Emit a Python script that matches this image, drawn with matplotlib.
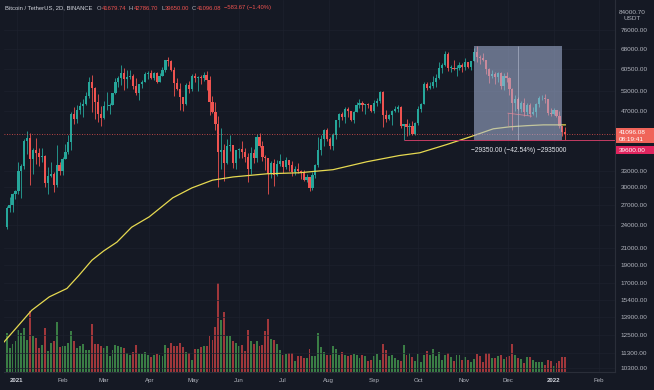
import numpy as np
import matplotlib
matplotlib.use("Agg")
import matplotlib.pyplot as plt
import matplotlib.dates as mdates
from matplotlib.patches import Rectangle
from matplotlib.ticker import NullLocator, NullFormatter
from matplotlib.transforms import IdentityTransform

plt.rcParams['font.family'] = ['Liberation Sans', 'DejaVu Sans']

# 2D candles, first one opens 25 Dec 2020, prices in thousand USDT
first_day = '2020-12-25'
first_open_k = 23.7
close_k = [26.5, 27.1, 28.9, 29.4, 33.0, 34.0, 39.4, 40.2, 35.5, 37.3,
           36.8, 35.8, 36.0, 30.8, 32.1, 32.4, 30.4, 34.3, 33.1, 35.5,
           36.9, 39.3, 46.4, 44.9, 47.4, 48.6, 49.2, 51.6, 55.8, 54.1,
           49.7, 46.3, 45.1, 48.4, 48.4, 48.9, 52.4, 55.9, 57.2, 59.0,
           56.9, 57.6, 58.1, 54.5, 52.3, 55.1, 55.8, 58.8, 59.1, 57.1,
           59.1, 56.0, 58.1, 59.9, 63.6, 63.2, 60.0, 55.7, 53.8, 51.2,
           49.1, 55.0, 53.6, 57.8, 57.2, 57.5, 57.4, 58.3, 56.7, 49.7,
           46.8, 43.6, 37.0, 37.3, 34.7, 38.4, 38.5, 34.6, 37.3, 37.6,
           36.9, 35.8, 33.4, 36.7, 35.6, 40.5, 38.3, 35.8, 35.6, 32.5,
           34.7, 32.2, 34.5, 35.0, 33.8, 35.3, 34.2, 32.9, 33.5, 33.1,
           32.8, 31.4, 31.8, 29.8, 32.3, 34.3, 37.3, 40.0, 42.2, 39.9,
           38.2, 40.9, 44.6, 46.3, 45.6, 47.8, 47.0, 44.7, 46.8, 48.9,
           49.5, 48.9, 49.1, 48.8, 47.1, 49.3, 49.9, 52.7, 46.1, 44.9,
           46.1, 47.1, 47.8, 48.3, 43.0, 43.6, 42.8, 43.2, 41.0, 43.8,
           47.7, 49.2, 55.3, 53.9, 54.7, 56.0, 57.4, 60.9, 62.0, 66.0,
           60.7, 60.9, 60.4, 60.6, 61.9, 61.0, 62.9, 61.0, 63.3, 66.9,
           64.8, 64.4, 63.6, 60.4, 58.1, 58.7, 57.6, 58.9, 54.7, 57.8,
           57.2, 53.6, 49.4, 50.6, 47.6, 49.4, 46.7, 48.9, 46.2, 46.7,
           49.0, 50.8, 50.8, 50.7, 46.5, 46.2, 47.3, 45.8, 43.1, 41.67974,
           41.09608]
high_k = [26.9, 28.4, 29.0, 29.6, 34.8, 34.5, 40.0, 41.9, 41.4, 37.8,
          40.1, 37.9, 37.9, 36.4, 33.8, 34.9, 32.9, 38.5, 34.9, 35.9,
          38.7, 40.9, 46.8, 48.2, 48.9, 49.7, 50.6, 52.6, 57.5, 58.4,
          54.2, 52.0, 48.4, 50.0, 52.6, 49.4, 52.5, 57.4, 58.1, 61.8,
          60.6, 60.1, 59.9, 58.6, 57.2, 55.1, 56.6, 59.3, 59.8, 60.1,
          59.3, 59.5, 58.9, 61.2, 63.8, 64.9, 63.6, 61.0, 57.1, 55.5,
          51.2, 55.5, 56.4, 58.5, 59.0, 57.9, 58.4, 59.5, 59.6, 57.9,
          51.5, 49.7, 45.8, 42.5, 38.8, 39.9, 40.8, 38.2, 37.5, 37.9,
          39.5, 37.9, 36.8, 38.0, 37.7, 41.0, 41.3, 39.5, 36.4, 35.7,
          35.0, 35.5, 35.3, 36.6, 35.0, 35.9, 35.3, 35.1, 34.1, 34.6,
          33.3, 33.2, 32.4, 31.9, 32.9, 34.5, 40.5, 40.9, 42.3, 42.6,
          40.4, 41.4, 44.8, 46.5, 46.7, 48.1, 48.2, 47.2, 47.0, 49.8,
          50.5, 49.9, 49.2, 49.3, 48.9, 50.4, 51.0, 52.9, 52.9, 47.4,
          46.4, 47.3, 48.5, 48.8, 48.4, 43.6, 45.0, 44.0, 44.4, 44.1,
          48.5, 49.5, 55.8, 56.0, 56.0, 57.8, 58.5, 62.9, 62.7, 67.0,
          66.6, 61.7, 63.7, 62.0, 62.9, 62.4, 64.3, 63.1, 63.3, 68.5,
          69.0, 65.5, 66.3, 63.6, 60.9, 60.0, 59.3, 59.4, 59.2, 58.9,
          59.2, 57.6, 53.9, 51.9, 51.2, 50.1, 50.8, 49.5, 49.4, 48.3,
          49.3, 51.4, 51.9, 52.0, 50.7, 48.0, 47.9, 47.5, 47.1, 43.1,
          42.7867]
low_k = [23.4, 25.9, 26.0, 28.0, 28.9, 28.1, 33.4, 36.5, 30.4, 32.5,
         34.4, 34.0, 34.9, 30.1, 28.8, 31.9, 29.2, 30.0, 32.2, 32.3,
         35.4, 36.6, 37.4, 43.7, 44.0, 46.2, 45.6, 48.9, 50.8, 46.9,
         45.0, 44.1, 43.0, 45.0, 47.5, 46.3, 48.9, 52.0, 54.2, 55.0,
         53.3, 54.1, 56.8, 53.7, 51.7, 50.4, 54.0, 55.8, 56.9, 56.9,
         56.5, 55.5, 55.8, 57.9, 59.4, 61.3, 59.6, 51.5, 53.4, 47.5,
         47.0, 48.8, 52.4, 53.1, 56.0, 53.0, 55.2, 56.2, 53.4, 46.0,
         46.6, 42.0, 30.0, 33.5, 31.1, 34.4, 37.2, 33.6, 33.4, 35.7,
         35.6, 34.8, 31.0, 32.4, 34.6, 34.8, 38.1, 35.1, 33.3, 28.8,
         31.7, 30.2, 32.0, 34.0, 32.7, 33.5, 33.1, 32.1, 32.3, 32.7,
         31.6, 31.1, 31.0, 29.3, 29.5, 31.7, 33.9, 36.4, 38.3, 39.4,
         37.6, 37.3, 39.9, 42.8, 44.7, 43.8, 45.5, 44.4, 43.9, 46.7,
         48.0, 47.1, 46.3, 48.0, 46.7, 46.5, 48.4, 49.4, 42.8, 44.2,
         44.8, 43.4, 46.7, 46.7, 42.5, 39.6, 40.7, 40.8, 40.9, 40.8,
         43.3, 46.9, 49.0, 53.3, 53.7, 53.9, 54.4, 56.9, 58.9, 61.3,
         59.6, 59.5, 60.1, 58.0, 60.2, 59.4, 60.1, 60.7, 60.0, 63.2,
         62.8, 62.3, 63.4, 58.6, 55.6, 57.4, 55.4, 55.9, 53.5, 53.3,
         55.9, 51.7, 42.0, 47.1, 47.3, 46.9, 45.7, 46.1, 45.5, 45.9,
         45.6, 48.1, 50.2, 49.5, 46.1, 45.7, 46.0, 45.5, 42.5, 40.6,
         39.65]
# volume, thousand BTC (rough)
volume = [39, 24, 28, 31, 42, 39, 44, 32, 62, 36,
          34, 24, 27, 45, 21, 29, 31, 51, 25, 26,
          26, 29, 41, 31, 24, 26, 28, 22, 22, 49,
          28, 28, 26, 24, 26, 16, 22, 27, 26, 25,
          24, 19, 17, 20, 27, 18, 18, 20, 17, 15,
          17, 18, 17, 16, 27, 24, 29, 26, 26, 29,
          25, 20, 19, 12, 23, 23, 25, 26, 26, 36,
          32, 46, 90, 53, 61, 36, 36, 31, 29, 26,
          27, 21, 42, 31, 28, 31, 26, 27, 41, 54,
          33, 32, 28, 22, 17, 18, 19, 19, 11, 16,
          16, 14, 14, 23, 16, 16, 39, 25, 20, 17,
          17, 26, 23, 17, 20, 17, 16, 17, 18, 17,
          14, 17, 16, 11, 12, 16, 18, 12, 28, 22,
          16, 17, 14, 12, 11, 27, 17, 19, 15, 11,
          18, 10, 17, 21, 17, 23, 16, 20, 12, 17,
          19, 15, 11, 17, 17, 12, 15, 12, 10, 13,
          18, 16, 10, 19, 19, 14, 14, 16, 17, 13,
          15, 16, 28, 17, 14, 13, 9, 15, 15, 12,
          10, 10, 10, 7, 12, 11, 6, 9, 11, 15,
          15]

# moving average (yellow line), thousand USDT
ma_dates = ['2020-12-23', '2021-01-11', '2021-01-23', '2021-02-04', '2021-02-12',
            '2021-02-21', '2021-03-01', '2021-03-10', '2021-03-20', '2021-04-01',
            '2021-04-17', '2021-04-30', '2021-05-14', '2021-05-28', '2021-06-20',
            '2021-07-12', '2021-08-04', '2021-08-27', '2021-09-18', '2021-10-02',
            '2021-10-20', '2021-11-05', '2021-11-21', '2021-12-02', '2021-12-14',
            '2021-12-25', '2022-01-09']
ma_k = [12.0, 14.5, 15.7, 16.5, 17.8, 19.5, 20.6, 21.7, 23.7, 25.2,
        28.2, 29.9, 31.3, 31.9, 32.5, 32.7, 33.3, 34.9, 36.2, 36.8,
        38.6, 40.4, 42.4, 42.9, 43.2, 43.4, 43.4]

price_ticks = [76000, 68000, 60500, 53000, 47000, 33000, 30000, 27000, 24000,
               21000, 19000, 17000, 15400, 13900, 12500, 11300, 10300]
month_dates = ['2021-01-01', '2021-02-01', '2021-03-01', '2021-04-01', '2021-05-01',
               '2021-06-01', '2021-07-01', '2021-08-01', '2021-09-01', '2021-10-01',
               '2021-11-01', '2021-12-01', '2022-01-01', '2022-02-01']
month_labels = ['2021', 'Feb', 'Mar', 'Apr', 'May', 'Jun', 'Jul', 'Aug', 'Sep',
                'Oct', 'Nov', 'Dec', '2022', 'Feb']

symbol = 'Bitcoin / TetherUS, 2D, BINANCE'
change = -583.67
change_pct = -1.40
countdown = '08:19:41'
ray_start = '2021-09-21'
ray_price = 39600
range_dates = ['2021-11-08', '2022-01-07']
range_high = 69000.0
range_low = 39650.0
note_dates = ['2021-12-01', '2021-12-17']
note_prices = [46500, 45700]

BG = '#151924'
UP, DOWN = '#26a69a', '#ef5350'
VUP, VDOWN = '#3a7d45', '#a0373b'
TXT = '#b2b5be'
W, H = 654, 390


def fmt(v):
    return f'{v:.2f}'.replace('-', '\u2212')


closes = np.array(close_k) * 1000
highs = np.array(high_k) * 1000
lows = np.array(low_k) * 1000
opens = np.concatenate([[first_open_k * 1000], closes[:-1]])
dates = np.datetime64(first_day) + np.arange(len(closes)) * np.timedelta64(2, 'D')
x = mdates.date2num(dates)
up = closes >= opens

fig = plt.figure(figsize=(W / 100, H / 100), dpi=100, facecolor=BG)
rect = [4 / W, 18 / H, (615 - 4) / W, 372 / H]
axv = fig.add_axes(rect)
ax = fig.add_axes(rect, sharex=axv)
axv.axis('off')
ax.set_facecolor('none')

# volume underneath
axv.bar(x, volume, width=1.3, color=np.where(up, VUP, VDOWN), linewidth=0)
axv.set_ylim(0, max(volume) * 372 / 89)

# candles
ax.set_yscale('log')
ax.vlines(x, lows, highs, colors=np.where(up, UP, DOWN), lw=0.6, zorder=3)
b_lo = np.minimum(opens, closes)
b_hi = np.maximum(np.maximum(opens, closes), b_lo * 1.004)
ax.bar(x, b_hi - b_lo, bottom=b_lo, width=1.5, color=np.where(up, UP, DOWN),
       linewidth=0, zorder=4)

ax.plot(mdates.date2num(np.array(ma_dates, dtype='datetime64[D]')),
        np.array(ma_k) * 1000, color='#e6d951', lw=0.9, zorder=5)

jan1 = mdates.date2num(np.datetime64('2021-01-01'))
ax.set_xlim(jan1 - 8.8, jan1 + 406.8)
ax.set_ylim(10070, 90800)

# drawings
ax.axhline(closes[-1], color=DOWN, lw=0.6, ls=(0, (1, 2)), zorder=5)
ax.hlines(ray_price, mdates.date2num(np.datetime64(ray_start)), ax.get_xlim()[1],
          color='#c43d63', lw=0.7, zorder=5)
rx0, rx1 = mdates.date2num(np.array(range_dates, dtype='datetime64[D]'))
ax.add_patch(Rectangle((rx0, range_low), rx1 - rx0, range_high - range_low,
                       facecolor='#a9b8dc', alpha=0.55, edgecolor='none', zorder=6))
ax.vlines((rx0 + rx1) / 2, range_low, range_high, color='#d4dbeb', lw=0.5,
          alpha=0.6, zorder=7)
nd = mdates.date2num(np.array(note_dates, dtype='datetime64[D]'))
ax.plot(nd, note_prices, color='#e58a9a', lw=0.6, alpha=0.8, zorder=7)
ax.vlines(nd[0], 43000, note_prices[0], color='#e58a9a', lw=0.5, alpha=0.6, zorder=7)
diff = range_low - range_high
ax.annotate(f'{fmt(diff)} ({fmt(diff / range_high * 100)}%) {int(round(diff * 100))}'.replace('-', '\u2212'),
            xy=((rx0 + rx1) / 2, range_low), xytext=(0, -7.5), textcoords='offset points',
            ha='center', va='center', fontsize=4.8, color='#e8eaf0', zorder=8)

# axes styling
ax.yaxis.tick_right()
ax.set_yticks(price_ticks)
ax.set_yticklabels([f'{t:.2f}' for t in price_ticks])
ax.yaxis.set_minor_locator(NullLocator())
ax.yaxis.set_minor_formatter(NullFormatter())
ax.tick_params(axis='y', length=0, pad=4, labelsize=4.6, labelcolor=TXT)
ax.set_xticks(mdates.date2num(np.array(month_dates, dtype='datetime64[D]')))
ax.set_xticklabels(month_labels)
ax.tick_params(axis='x', length=0, pad=4, labelsize=4.4, labelcolor=TXT)
for lbl in ax.get_xticklabels():
    if lbl.get_text() in ('2021', '2022'):
        lbl.set_fontweight('bold')
        lbl.set_color('#d1d4dc')
ax.grid(True, which='major', color='#1d212e', lw=0.5)
for side in ('top', 'left'):
    ax.spines[side].set_visible(False)
for side in ('right', 'bottom'):
    ax.spines[side].set_color('#2a2e39')
    ax.spines[side].set_linewidth(0.8)

# right axis price labels
idt = IdentityTransform()
y_last = ax.transData.transform((ax.get_xlim()[0], closes[-1]))[1]
fig.add_artist(Rectangle((616, y_last - 9), 40, 15, facecolor='#f0645a',
                         edgecolor='none', transform=idt))
fig.text(619, y_last + 2, fmt(closes[-1]), color='white', fontsize=4.6,
         va='center', transform=idt)
fig.text(619, y_last - 5, countdown, color='white', fontsize=4.6,
         va='center', transform=idt)
y_ray = ax.transData.transform((ax.get_xlim()[0], ray_price))[1] - 10
fig.add_artist(Rectangle((616, y_ray - 4), 40, 8, facecolor='#e0245e',
                         edgecolor='none', transform=idt))
fig.text(619, y_ray, fmt(ray_price), color='white', fontsize=4.6,
         va='center', transform=idt)
fig.text(619, H - 12, '84000.70', color=TXT, fontsize=4.6, va='center', transform=idt)
fig.text(623, H - 18, 'USDT', color=TXT, fontsize=4.6, va='center', transform=idt,
         bbox=dict(boxstyle='square,pad=0.15', facecolor=BG, edgecolor='none'))

# header line
renderer = fig.canvas.get_renderer()
parts = [(symbol, '#d1d4dc', 4), ('O', TXT, 0.5), (fmt(opens[-1]), DOWN, 3),
         ('H', TXT, 0.5), (fmt(highs[-1]), DOWN, 3), ('L', TXT, 0.5),
         (fmt(lows[-1]), DOWN, 3), ('C', TXT, 0.5), (fmt(closes[-1]), DOWN, 3),
         (f'{fmt(change)} ({fmt(change_pct)}%)', DOWN, 0)]
hx = 5
for s, col, gap in parts:
    t = fig.text(hx, H - 8, s, color=col, fontsize=4.2, va='center', transform=idt)
    hx += t.get_window_extent(renderer).width + gap

fig.savefig('out.png', dpi=100, facecolor=BG)
